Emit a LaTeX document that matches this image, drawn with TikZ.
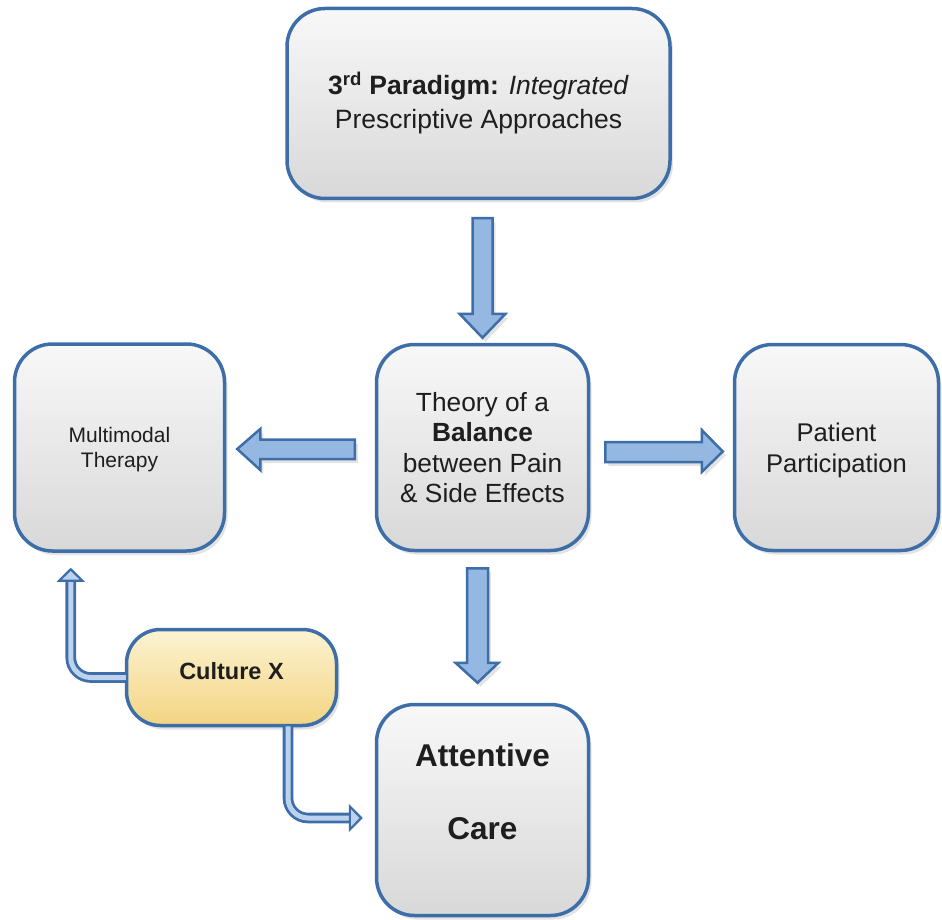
\documentclass[tikz,border=0pt]{standalone}
\usepackage{fontspec}
\setmainfont{Liberation Sans}
\usetikzlibrary{calc,shadows,arrows.meta}
\definecolor{bordr}{RGB}{62,110,168}
\definecolor{arrfill}{RGB}{148,184,226}
\definecolor{boxtop}{RGB}{248,248,248}
\definecolor{boxbot}{RGB}{216,216,216}
\definecolor{culttop}{RGB}{252,243,210}
\definecolor{cultbot}{RGB}{243,212,130}
\definecolor{txt}{RGB}{30,30,30}
\definecolor{dblin}{RGB}{188,210,238}
\begin{document}
\begin{tikzpicture}[x=1pt,y=-1pt,
  box/.style={draw=bordr, line width=3.5pt, rounded corners=38pt, top color=boxtop, bottom color=boxbot,
    align=center, text=txt, inner sep=0pt,
    drop shadow={opacity=0.22, shadow xshift=3pt, shadow yshift=-4pt}},
  cult/.style={draw=bordr, line width=3.5pt, rounded corners=34pt, top color=culttop, bottom color=cultbot,
    align=center, text=txt, inner sep=0pt,
    drop shadow={opacity=0.22, shadow xshift=3pt, shadow yshift=-4pt}},
  barrow/.style={draw=bordr, line width=2.5pt, fill=arrfill, line join=miter,
    drop shadow={opacity=0.22, shadow xshift=3pt, shadow yshift=-4pt}},
  dbl/.style={draw=bordr, line width=2.8pt, double=dblin, double distance=5pt, rounded corners=20pt,
    -{Triangle[length=14pt,width=28pt,fill=dblin,line width=2.2pt]}}
]
\useasboundingbox (0,0) rectangle (942,920);

\node[box, minimum width=383pt, minimum height=190pt, font=\fontsize{26.5}{34}\selectfont]
  (top) at (478.5,103.5) {\textbf{3\textsuperscript{rd} Paradigm:} \textit{Integrated}\\Prescriptive Approaches};
\node[box, minimum width=212pt, minimum height=206pt, font=\fontsize{26.3}{30.5}\selectfont]
  (mid) at (482.5,447.5) {Theory of a\\\textbf{Balance}\\between Pain\\\& Side Effects};
\node[box, minimum width=210pt, minimum height=207pt, text depth=-1pt, font=\fontsize{21}{25}\selectfont]
  (left) at (119.5,447.5) {Multimodal\\Therapy};
\node[box, minimum width=204pt, minimum height=206pt, text depth=-4.5pt, font=\fontsize{25.6}{31}\selectfont]
  (right) at (836.5,447.5) {Patient\\Participation};
\node[box, minimum width=212pt, minimum height=211pt, text depth=36pt, font=\bfseries\fontsize{31.5}{73}\selectfont]
  (attn) at (482.5,810) {Attentive\\Care};
\node[cult, minimum width=210pt, minimum height=96pt, text depth=14pt, font=\bfseries\fontsize{23.5}{28}\selectfont]
  (cult) at (231.5,677.5) {Culture X};

% block arrows
\draw[barrow] ($(top.south -| mid.north)+(-10,18)$) -- ($(top.south -| mid.north)+(10,18)$)
  -- ($(mid.north)+(10,-29)$) -- ($(mid.north)+(23,-29)$) -- ($(mid.north)+(0,-5)$)
  -- ($(mid.north)+(-23,-29)$) -- ($(mid.north)+(-10,-29)$) -- cycle;
\draw[barrow] ($(mid.south)+(-15.5,16)$) -- ($(mid.south)+(5.5,16)$)
  -- ($(attn.north -| mid.south)+(5.5,-40)$) -- ($(attn.north -| mid.south)+(16,-40)$)
  -- ($(attn.north -| mid.south)+(-5,-20)$) -- ($(attn.north -| mid.south)+(-27,-40)$)
  -- ($(attn.north -| mid.south)+(-15.5,-40)$) -- cycle;
\draw[barrow] ($(mid.west)+(-20,-8)$) -- ($(mid.west)+(-20,11.5)$)
  -- ($(left.east)+(34,11.5)$) -- ($(left.east)+(34,22.5)$) -- ($(left.east)+(11,1.5)$)
  -- ($(left.east)+(34,-18.5)$) -- ($(left.east)+(34,-8)$) -- cycle;
\draw[barrow] ($(mid.east)+(15,-5.5)$) -- ($(mid.east)+(15,14.5)$)
  -- ($(right.west)+(-31,14.5)$) -- ($(right.west)+(-31,24.5)$) -- ($(right.west)+(-10,4)$)
  -- ($(right.west)+(-31,-17.5)$) -- ($(right.west)+(-31,-5.5)$) -- cycle;

% double-line arrows from Culture X
\draw[dbl] ($(cult.west)+(1,0)$) -| ($(left.south west)+(58,15)$);
\draw[dbl] ($(cult.south)+(56.5,-1)$) |- ($(attn.west)+(-12,8)$);
\end{tikzpicture}
\end{document}
